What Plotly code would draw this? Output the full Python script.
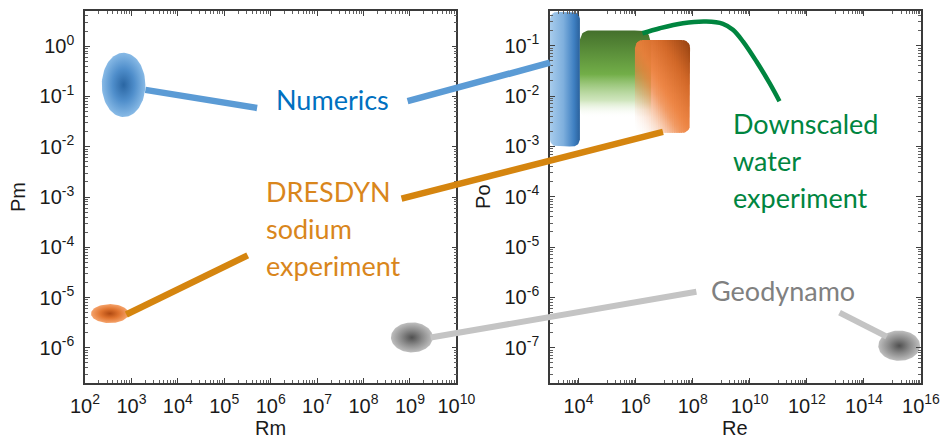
import numpy as np
import plotly.graph_objects as go

# ---------------- data ----------------
# Left panel: Pm versus Rm (value ranges of each regime)
numerics_Rm = [230, 2000]
numerics_Pm = [0.039, 0.74]
dresdyn_Rm = [135, 870]
dresdyn_Pm = [3.1e-6, 7.4e-6]
geo_Rm = [3.9e8, 3.1e9]
geo_Pm = [8.1e-7, 3.2e-6]

# Right panel: Po versus Re (value ranges of each regime)
numerics_Re = [1.0e3, 1.12e4]
numerics_Po = [1.0e-3, 0.47]
water_Re = [1.12e4, 3.2e6]
water_Po = [3.7e-3, 0.20]
dresdyn_Re = [9.5e5, 8.1e7]
dresdyn_Po = [1.86e-3, 0.13]
geo_Re = [3.2e14, 9.3e15]
geo_Po = [5.5e-8, 2.2e-7]

# Downscaled water experiment curve
water_curve_Re = [1.74e6, 7.1e6, 4.57e7, 3.0e8, 1.15e9, 2.57e9, 5.75e9, 1.7e10, 4.9e10, 1.1e11]
water_curve_Po = [0.177, 0.223, 0.280, 0.302, 0.272, 0.207, 0.122, 0.049, 0.0182, 0.0079]

# Tick exponents
left_x_exp = [2, 3, 4, 5, 6, 7, 8, 9, 10]
left_y_exp = [0, -1, -2, -3, -4, -5, -6]
right_x_exp = [4, 6, 8, 10, 12, 14, 16]
right_y_exp = [-1, -2, -3, -4, -5, -6, -7]

# Axis titles
titles = {"x": "Rm", "y": "Pm", "x2": "Re", "y2": "Po"}

# Labels (lines, panel, x value, y value) and connector lines (panel, x value, y value)
labels = {
    "numerics": (["Numerics"], "L", 2.1e7, 0.075),
    "dresdyn": (["DRESDYN", "sodium", "experiment"], "L", 7.2e5, 2.1e-4),
    "water": (["Downscaled", "water", "experiment"], "R", 2.2e9, 4.6e-4),
    "geo": (["Geodynamo"], "R", 1.5e11, 1.2e-6),
}
connectors = [
    ("numerics", ("L", 2000, 0.135), ("L", 5.1e5, 0.059)),
    ("numerics", ("L", 8.9e8, 0.081), ("R", 1.0e3, 0.046)),
    ("dresdyn", ("L", 776, 4.6e-6), ("L", 3.2e5, 6.9e-5)),
    ("dresdyn", ("L", 6.6e8, 9.3e-4), ("R", 9.1e6, 1.95e-3)),
    ("geo", ("L", 2.8e9, 1.6e-6), ("R", 1.35e8, 1.3e-6)),
    ("geo", ("R", 1.4e13, 5.0e-7), ("R", 6.3e14, 1.66e-7)),
]

# ---------------- geometry / style ----------------
W, H = 949, 441
ML, MR, MT, MB = 85, 22, 9, 58
PW, PH = W - ML - MR, H - MT - MB
XDOM_L = [0.0, 374 / PW]
XDOM_R = [(553.3 - ML) / PW, 1.0]
YDOM = [0.0, 1.0]
XR_L, YR_L = [2, 10], [-6.70, 0.70]
XR_R, YR_R = [3, 16], [-7.70, -0.31]
AX = {
    "L": dict(xdom=XDOM_L, ydom=YDOM, xr=XR_L, yr=YR_L, xa="x", ya="y"),
    "R": dict(xdom=XDOM_R, ydom=YDOM, xr=XR_R, yr=YR_R, xa="x2", ya="y2"),
}

LINE_COL = {"numerics": "#5b9bd5", "dresdyn": "#d5850f", "geo": "#c4c4c4"}
LINE_W = {"numerics": 6.5, "dresdyn": 6.5, "geo": 6}
TEXT_COL = {"numerics": "#0070c0", "dresdyn": "#d9861c", "water": "#00853f", "geo": "#808080"}
WATER_COL = "#00853f"
LINE_SPACING = 37
LABEL_NUDGE = 3


def ppd(panel):
    a = AX[panel]
    px = PW * (a["xdom"][1] - a["xdom"][0]) / (a["xr"][1] - a["xr"][0])
    py = PH * (a["ydom"][1] - a["ydom"][0]) / (a["yr"][1] - a["yr"][0])
    return px, py


def to_paper(panel, xv, yv):
    a = AX[panel]
    fx = (np.log10(xv) - a["xr"][0]) / (a["xr"][1] - a["xr"][0])
    fy = (np.log10(yv) - a["yr"][0]) / (a["yr"][1] - a["yr"][0])
    return (a["xdom"][0] + fx * (a["xdom"][1] - a["xdom"][0]),
            a["ydom"][0] + fy * (a["ydom"][1] - a["ydom"][0]))


def ellipse(xr, yr, n=90):
    lx, ly = np.log10(xr), np.log10(yr)
    cx, rx = lx.mean(), (lx[1] - lx[0]) / 2
    cy, ry = ly.mean(), (ly[1] - ly[0]) / 2
    t = np.linspace(0, 2 * np.pi, n)
    return 10 ** (cx + rx * np.cos(t)), 10 ** (cy + ry * np.sin(t))


def rrect_bounds(xr, yr, panel, rpx=7):
    ppx, ppy = ppd(panel)
    x0, x1 = np.log10(xr)
    y0, y1 = np.log10(yr)
    rx, ry = rpx / ppx, rpx / ppy

    def dist(x):
        return np.maximum(np.maximum(x0 + rx - x, x - (x1 - rx)), 0) / rx

    def top(x):
        return y1 - ry + ry * np.sqrt(np.clip(1 - dist(x) ** 2, 0, 1))

    def bot(x):
        return y0 + ry - ry * np.sqrt(np.clip(1 - dist(x) ** 2, 0, 1))

    return x0, x1, y0, y1, top, bot


def rrect(xr, yr, panel, rpx=7, xa=None, xb=None, n=60):
    x0, x1, _, _, top, bot = rrect_bounds(xr, yr, panel, rpx)
    xa = x0 if xa is None else max(xa, x0)
    xb = x1 if xb is None else min(xb, x1)
    xs = np.linspace(xa, xb, n)
    lx = np.concatenate([xs, xs[::-1], xs[:1]])
    ly = np.concatenate([top(xs), bot(xs[::-1]), top(xs[:1])])
    return 10 ** lx, 10 ** ly


def interp(stops, t):
    t = min(max(t, 0.0), 1.0)
    for (t0, c0), (t1, c1) in zip(stops[:-1], stops[1:]):
        if t <= t1:
            f = (t - t0) / (t1 - t0) if t1 > t0 else 0
            return [c0[i] + f * (c1[i] - c0[i]) for i in range(4)]
    return list(stops[-1][1])


def over(fg, bg):
    a = fg[3]
    return [a * fg[i] + (1 - a) * bg[i] for i in range(3)]


def rgba(c):
    return "rgba(%d,%d,%d,%.3f)" % (c[0], c[1], c[2], c[3] if len(c) > 3 else 1)


fig = go.Figure()


def add_fill(panel, xs, ys, gtype, cscale):
    a = AX[panel]
    fig.add_trace(go.Scatter(
        x=xs, y=ys, xaxis=a["xa"], yaxis=a["ya"], mode="lines", fill="toself",
        line=dict(width=0, color="rgba(0,0,0,0)"),
        fillgradient=dict(type=gtype, colorscale=cscale),
        hoverinfo="skip", showlegend=False))


# Left panel ellipses
add_fill("L", *ellipse(numerics_Rm, numerics_Pm), "radial",
         [[0, "#2a66a3"], [0.5, "#4f8ecb"], [1, "#88bae6"]])
add_fill("L", *ellipse(dresdyn_Rm, dresdyn_Pm), "radial",
         [[0, "#b04a12"], [0.5, "#e0742f"], [1, "#f5a36b"]])
add_fill("L", *ellipse(geo_Rm, geo_Pm), "radial",
         [[0, "#505050"], [0.5, "#8a8a8a"], [1, "#bebebe"]])

# Right panel rectangles
add_fill("R", *rrect(numerics_Re, numerics_Po, "R"), "horizontal",
         [[0, "#a8ccec"], [0.45, "#7eafdd"], [0.8, "#3f80c2"], [1, "#2a619c"]])

GREEN_STOPS = [(0.0, (255, 255, 255, 0.0)), (0.2, (175, 212, 145, 0.6)),
               (0.5, (114, 174, 72, 1.0)), (1.0, (68, 112, 44, 1.0))]
add_fill("R", *rrect(water_Re, water_Po, "R", rpx=9), "vertical",
         [[t, rgba(c)] for t, c in GREEN_STOPS])

# Orange (DRESDYN) rectangle: diagonal gradient from opaque vertical strips,
# blended with the green box lying behind its left part
ORANGE_STOPS = [(0.0, (255, 255, 255, 0.0)), (0.25, (240, 140, 80, 0.35)),
                (0.4, (238, 130, 62, 0.8)), (0.5, (237, 128, 60, 0.95)),
                (0.75, (210, 104, 40, 1.0)), (1.0, (150, 66, 16, 1.0))]
gx0, gx1 = np.log10(water_Re)
gy0, gy1 = np.log10(water_Po)
ox0, ox1, oy0, oy1, _, _ = rrect_bounds(dresdyn_Re, dresdyn_Po, "R", 8)
NS = 24
edges = np.linspace(ox0, ox1, NS + 1)
wstrip = edges[1] - edges[0]
for i in range(NS):
    u = (i + 0.5) / NS
    lx = ox0 + u * (ox1 - ox0)
    cs = []
    for v in np.linspace(0, 1, 13):
        ly = oy0 + v * (oy1 - oy0)
        bg = [255, 255, 255]
        if gx0 <= lx <= gx1 and gy0 <= ly <= gy1:
            bg = over(interp(GREEN_STOPS, (ly - gy0) / (gy1 - gy0)), bg)
        fg = interp(ORANGE_STOPS, (u + v) / 2)
        cs.append([v, rgba(over(fg, bg) + [1])])
    add_fill("R", *rrect(dresdyn_Re, dresdyn_Po, "R", rpx=8, xa=edges[i],
                         xb=edges[i + 1] + 0.6 * wstrip, n=6), "vertical", cs)

# Right panel geodynamo ellipse
add_fill("R", *ellipse(geo_Re, geo_Po), "radial",
         [[0, "#505050"], [0.5, "#8a8a8a"], [1, "#bebebe"]])

# Water experiment curve
fig.add_trace(go.Scatter(x=water_curve_Re, y=water_curve_Po, xaxis="x2", yaxis="y2",
                         mode="lines", line=dict(color=WATER_COL, width=4.5, shape="spline"),
                         hoverinfo="skip", showlegend=False))

# Connector lines
shapes = []
for key, p0, p1 in connectors:
    x0, y0 = to_paper(*p0)
    x1, y1 = to_paper(*p1)
    shapes.append(dict(type="line", xref="paper", yref="paper", x0=x0, y0=y0, x1=x1, y1=y1,
                       line=dict(color=LINE_COL[key], width=LINE_W[key]), layer="above"))

# Text labels (one annotation per line)
annotations = []
for key, (lines, panel, xv, yv) in labels.items():
    px, py = to_paper(panel, xv, yv)
    left = key in ("dresdyn", "water")
    n = len(lines)
    for j, txt in enumerate(lines):
        annotations.append(dict(
            text=txt, xref="paper", yref="paper", x=px, y=py, showarrow=False,
            yshift=-(j - (n - 1) / 2) * LINE_SPACING + LABEL_NUDGE,
            xanchor="left" if left else "center", yanchor="middle", align="left",
            font=dict(family="Lato", size=27, color=TEXT_COL[key])))

TICKFONT = dict(family="Liberation Sans", size=20, color="#1a1a1a")
TITLEFONT = dict(family="Liberation Sans", size=20, color="#1a1a1a")

# Axis titles as annotations anchored to the axis domains
for dom, key in ((XDOM_L, "x"), (XDOM_R, "x2")):
    annotations.append(dict(text=titles[key], xref="paper", yref="paper",
                            x=(dom[0] + dom[1]) / 2, y=0, yshift=-45, showarrow=False,
                            xanchor="center", yanchor="middle", font=TITLEFONT))
for dom, key in ((XDOM_L, "y"), (XDOM_R, "y2")):
    annotations.append(dict(text=titles[key], xref="paper", yref="paper", textangle=-90,
                            x=dom[0], y=0.5, xshift=-67, showarrow=False,
                            xanchor="center", yanchor="middle", font=TITLEFONT))


def sup(e):
    return "10<sup>%d</sup>" % e


def axis(dom, rng, exps, minor_vals, **kw):
    return dict(type="log", domain=dom, range=rng,
                tickvals=[10.0 ** e for e in exps], ticktext=[sup(e) for e in exps],
                showline=True, linecolor="#3a3a3a", linewidth=1.5, mirror="allticks",
                ticks="inside", ticklen=5, tickwidth=1, tickcolor="#404040",
                minor=dict(tickvals=minor_vals, ticks="inside", ticklen=3, tickwidth=1,
                           tickcolor="#606060", showgrid=False),
                showgrid=False, zeroline=False, tickfont=TICKFONT, **kw)


def minors(e0, e1, decades=None, ms=range(2, 10)):
    out = []
    for e in range(e0, e1):
        if decades is not None and e not in decades:
            continue
        out += [m * 10.0 ** e for m in ms]
    return out


lx_minor = minors(2, 10)
ly_minor = minors(-7, 1)
rx_minor = minors(3, 16, decades=set(range(3, 16, 2)), ms=range(1, 10))
ry_minor = minors(-8, 0)

fig.update_layout(
    width=W, height=H, margin=dict(l=ML, r=MR, t=MT, b=MB),
    paper_bgcolor="white", plot_bgcolor="white", showlegend=False,
    xaxis=axis(XDOM_L, XR_L, left_x_exp, lx_minor, anchor="y", ticklabelstandoff=4),
    yaxis=axis(YDOM, YR_L, left_y_exp, ly_minor, anchor="x", ticklabelstandoff=5),
    xaxis2=axis(XDOM_R, XR_R, right_x_exp, rx_minor, anchor="y2", ticklabelstandoff=4),
    yaxis2=axis(YDOM, YR_R, right_y_exp, ry_minor, anchor="x2", ticklabelstandoff=5),
    shapes=shapes, annotations=annotations,
)

fig.write_html("out.html")
